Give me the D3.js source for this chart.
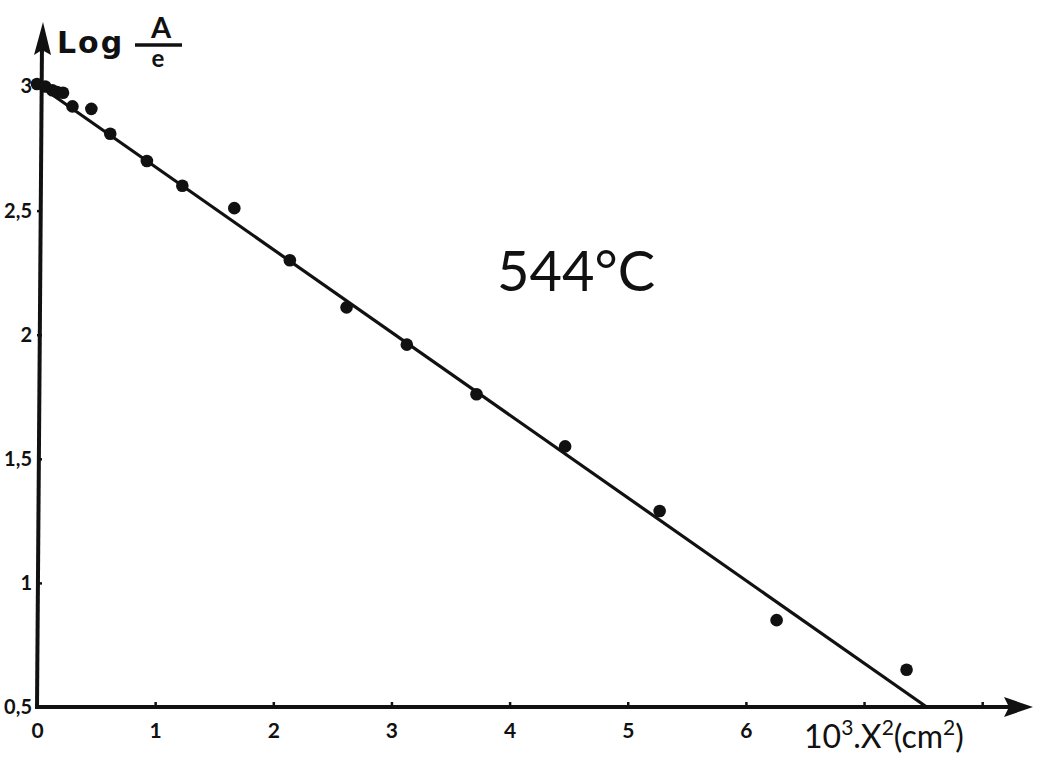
<!DOCTYPE html>
<html>
<head>
<meta charset="utf-8">
<script src="https://cdn.jsdelivr.net/npm/d3@7"></script>
<style>
  body { margin: 0; background: #fff; }
  svg { display: block; }
  text { font-family: Lato, "DejaVu Sans", sans-serif; fill: #111; }
</style>
</head>
<body>
<div id="chart"></div>
<script>
// measured points, 544 °C
const x2 = [0.0, 0.07, 0.13, 0.17, 0.22, 0.30, 0.46, 0.62, 0.93, 1.23, 1.67, 2.14, 2.62, 3.13, 3.72, 4.47, 5.27, 6.26, 7.36];
const logAe = [3.01, 3.0, 2.985, 2.978, 2.975, 2.92, 2.91, 2.81, 2.70, 2.60, 2.51, 2.30, 2.11, 1.96, 1.76, 1.55, 1.29, 0.85, 0.65];

// fitted straight line (end points)
const fitX = [0, 7.53];
const fitY = [3.01, 0.5];

const xTicks = [0, 1, 2, 3, 4, 5, 6, 7, 8];
const xTickLabels = ['0', '1', '2', '3', '4', '5', '6', '', ''];
const yTicks = [0.5, 1, 1.5, 2, 2.5, 3];
const yTickLabels = ['0,5', '1', '1,5', '2', '2,5', '3'];

const width = 1041, height = 761;

const svg = d3.select('#chart').append('svg')
    .attr('width', width)
    .attr('height', height);

const x = d3.scaleLinear().domain([0, 8.43]).range([37, 1033]);
const y = d3.scaleLinear().domain([0.5, 3.26]).range([707, 22]);

// x axis
const xAxis = svg.append('g')
    .attr('transform', `translate(0,${y(0.5)})`)
    .call(d3.axisBottom(x).tickValues(xTicks).tickSize(-5).tickSizeOuter(0)
        .tickPadding(16).tickFormat((d, i) => xTickLabels[i]));
xAxis.select('.domain').remove();
xAxis.selectAll('line').attr('stroke', '#111').attr('stroke-width', 2.5);
xAxis.selectAll('text').style('font-size', '21px').style('font-weight', 700)
    .style('font-family', 'Lato, sans-serif').attr('fill', '#111');

// y axis
const yAxis = svg.append('g')
    .attr('transform', `translate(${x(0)},0)`)
    .call(d3.axisLeft(y).tickValues(yTicks).tickSize(-5).tickSizeOuter(0)
        .tickPadding(5).tickFormat((d, i) => yTickLabels[i]));
yAxis.select('.domain').remove();
yAxis.selectAll('line').attr('stroke', '#111').attr('stroke-width', 2.5);
yAxis.selectAll('text').style('font-size', '20px').style('font-weight', 700)
    .style('font-family', 'Lato, sans-serif').attr('fill', '#111');

// axis lines with arrows
const x0 = x(0), y0 = y(0.5);
const xEnd = x.range()[1], yEnd = y.range()[1];
svg.append('line')
    .attr('x1', x0 - 2).attr('y1', y0).attr('x2', xEnd - 20).attr('y2', y0)
    .attr('stroke', '#111').attr('stroke-width', 4);
svg.append('line')
    .attr('x1', x0).attr('y1', y0 + 2).attr('x2', x0 + 5).attr('y2', yEnd + 20)
    .attr('stroke', '#111').attr('stroke-width', 4);
svg.append('path')
    .attr('d', `M${xEnd},${y0} L${xEnd - 29},${y0 - 10} L${xEnd - 24},${y0} L${xEnd - 29},${y0 + 10} Z`)
    .attr('fill', '#111');
svg.append('path')
    .attr('d', `M${x0 + 6},${yEnd} L${x0 - 3},${yEnd + 33} L${x0 + 5},${yEnd + 28} L${x0 + 14},${yEnd + 33} Z`)
    .attr('fill', '#111');

// fitted line
svg.append('line')
    .attr('x1', x(fitX[0])).attr('y1', y(fitY[0]))
    .attr('x2', x(fitX[1])).attr('y2', y(fitY[1]))
    .attr('stroke', '#111').attr('stroke-width', 3.2);

// points
svg.append('g').selectAll('circle')
    .data(x2.map((d, i) => [d, logAe[i]]))
    .join('circle')
    .attr('cx', d => x(d[0]))
    .attr('cy', d => y(d[1]))
    .attr('r', 6.3)
    .attr('fill', '#111');

// y label: Log A/e
const yl = svg.append('g');
yl.append('text').attr('x', 57).attr('y', 53)
    .style('font-family', '"DejaVu Sans", sans-serif')
    .style('font-size', '30px').style('font-weight', 700).style('letter-spacing', '2px').text('Log');
yl.append('text').attr('x', 161).attr('y', 38).attr('text-anchor', 'middle')
    .style('font-size', '29px').style('font-weight', 700).text('A');
yl.append('line').attr('x1', 135).attr('x2', 182).attr('y1', 45).attr('y2', 45)
    .attr('stroke', '#111').attr('stroke-width', 3.5);
yl.append('text').attr('x', 158).attr('y', 67).attr('text-anchor', 'middle')
    .style('font-size', '24px').style('font-weight', 700).text('e');

// x label
const xl = svg.append('text').attr('x', 804).attr('y', 748)
    .style('font-size', '32px').style('font-weight', 400);
xl.append('tspan').text('10');
xl.append('tspan').attr('dy', -13).style('font-size', '21px').text('3');
xl.append('tspan').attr('dy', 13).text('.X');
xl.append('tspan').attr('dy', -13).style('font-size', '21px').text('2');
xl.append('tspan').attr('dy', 13).text('(cm');
xl.append('tspan').attr('dy', -13).style('font-size', '21px').text('2');
xl.append('tspan').attr('dy', 13).text(')');

// temperature
svg.append('text').attr('x', 497).attr('y', 291)
    .style('font-size', '56px').style('font-weight', 400).text('544°C');
</script>
</body>
</html>
